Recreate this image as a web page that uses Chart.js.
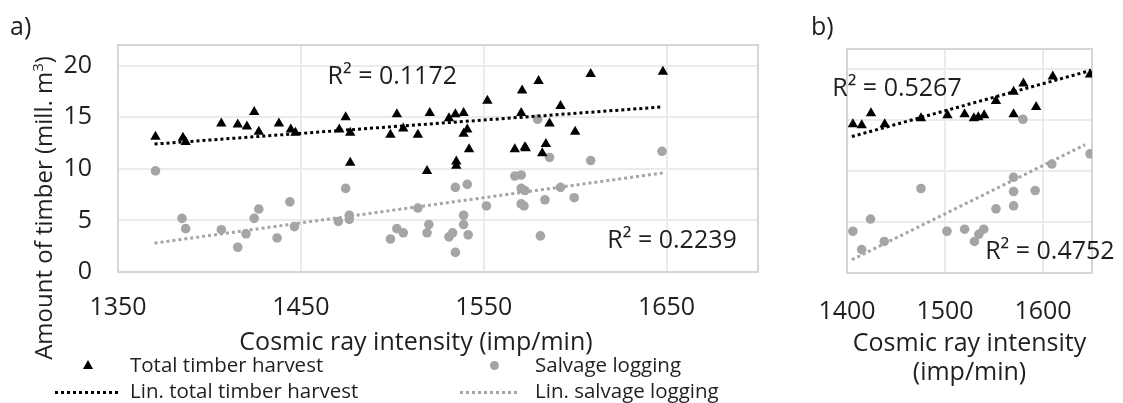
<!DOCTYPE html>
<html>
<head>
<meta charset="utf-8">
<script src="https://cdn.jsdelivr.net/npm/chart.js@4.4.1/dist/chart.umd.min.js"></script>
<style>
  body { margin: 0; background: #fff; width: 1123px; height: 403px; position: relative; overflow: hidden;
         font-family: 'Open Sans', sans-serif; color: #1f1f1f; }
  canvas { position: absolute; top: 0; }
  #chartA { left: 0; }
  #chartB { left: 780px; }
  .txt { position: absolute; white-space: nowrap; line-height: 1; }
  .panel { font-size: 25px; }
  .ytitle { left: 43px; top: 208px; font-size: 24px; transform: translate(-50%, -50%) rotate(-90deg); }
  .ytitle sup { font-size: 15px; vertical-align: 9px; line-height: 0; }
  .xtitle { left: 416px; top: 340px; font-size: 25px; transform: translate(-50%, -50%); }
  .leg { font-size: 20.5px; }
  .mk { position: absolute; }
  .tri { width: 0; height: 0; border-left: 5px solid transparent; border-right: 5px solid transparent; border-bottom: 9px solid #000; }
  .dot { width: 9px; height: 9px; border-radius: 50%; background: #a5a5a5; }
  .dash { height: 3px; }
</style>
</head>
<body>
<canvas id="chartA" width="775" height="355"></canvas>
<canvas id="chartB" width="343" height="392"></canvas>

<div class="txt panel" style="left:10px; top:13px;">a)</div>
<div class="txt panel" style="left:811px; top:13px;">b)</div>
<div class="txt ytitle">Amount of timber (mill. m<sup>3</sup>)</div>
<div class="txt xtitle">Cosmic ray intensity (imp/min)</div>

<!-- legend -->
<div class="mk tri" style="left:83px; top:360px;"></div>
<div class="txt leg" style="left:130px; top:354px;">Total timber harvest</div>
<div class="mk dot" style="left:490px; top:361px;"></div>
<div class="txt leg" style="left:535px; top:354px;">Salvage logging</div>
<div class="mk dash" style="left:55px; top:391px; width:63px; background: repeating-linear-gradient(to right, #000 0 3px, transparent 3px 6px);"></div>
<div class="txt leg" style="left:130px; top:380px;">Lin. total timber harvest</div>
<div class="mk dash" style="left:460px; top:391px; width:58px; background: repeating-linear-gradient(to right, #a5a5a5 0 3px, transparent 3px 6px);"></div>
<div class="txt leg" style="left:535px; top:380px;">Lin. salvage logging</div>

<script>
// axis ticks
const xTicksA = [1350, 1450, 1550, 1650];
const xTicksB = [1400, 1500, 1600];
const yTicks = [0, 5, 10, 15, 20];

// panel a) - all years
const totalA_x = [1370.5, 1385.5, 1387, 1406.5, 1415.5, 1420.5, 1424.5, 1427, 1438, 1444.5, 1447, 1471, 1474.5, 1477, 1477,
  1499, 1502.5, 1506, 1514, 1519, 1520.5, 1531, 1534.5, 1535, 1535, 1539, 1539, 1541, 1542, 1552, 1567, 1570.5, 1571,
  1572.5, 1573, 1580, 1582, 1584, 1586, 1592, 1600, 1608.5, 1648];
const totalA_y = [13.1, 13.0, 12.6, 14.4, 14.3, 14.1, 15.5, 13.6, 14.4, 13.8, 13.5, 13.8, 15.0, 13.5, 10.6,
  13.3, 15.3, 13.9, 13.3, 9.8, 15.4, 14.9, 15.3, 10.7, 10.3, 15.4, 13.4, 13.8, 11.9, 16.6, 11.9, 15.4, 17.6,
  12.1, 12.0, 18.5, 11.5, 12.4, 14.4, 16.1, 13.6, 19.2, 19.4];
const salvageA_x = [1370.5, 1385, 1387, 1406.5, 1415.5, 1420, 1424.5, 1427, 1437, 1444, 1446.5, 1470.5, 1474.5, 1476.5, 1476.5,
  1499, 1502.5, 1506, 1514, 1519, 1520, 1531, 1533, 1534.5, 1534.5, 1539, 1539, 1541, 1541.5, 1551.5, 1567, 1570.5, 1570.5,
  1572.5, 1570.5, 1572, 1579.5, 1581, 1583.5, 1586, 1592, 1599.5, 1608.5, 1647.5];
const salvageA_y = [9.8, 5.2, 4.2, 4.1, 2.4, 3.7, 5.2, 6.1, 3.3, 6.8, 4.4, 4.9, 8.1, 5.5, 5.1,
  3.2, 4.2, 3.8, 6.2, 3.8, 4.6, 3.4, 3.8, 1.9, 8.2, 5.5, 4.6, 8.5, 3.6, 6.4, 9.3, 9.4, 8.1,
  7.9, 6.6, 6.4, 14.8, 3.5, 7.0, 11.1, 8.2, 7.2, 10.8, 11.7];
// trend line end points
const trendTotalA_x = [1370, 1648];
const trendTotalA_y = [12.4, 16.0];
const trendSalvageA_x = [1370, 1648];
const trendSalvageA_y = [2.8, 9.6];

// panel b) - subset
const totalB_x = [1406, 1415, 1424.5, 1438.5, 1475.5, 1502.5, 1520, 1529.5, 1534, 1540, 1552, 1570, 1570, 1580, 1593, 1610, 1648];
const totalB_y = [14.6, 14.5, 15.7, 14.6, 15.2, 15.5, 15.6, 15.2, 15.3, 15.5, 16.9, 15.6, 17.8, 18.6, 16.3, 19.3, 19.5];
const salvageB_x = [1406, 1415, 1424, 1438, 1475.5, 1502, 1520, 1530, 1534.5, 1539.5, 1552, 1570, 1570, 1570, 1579.5, 1592, 1609, 1648];
const salvageB_y = [4.1, 2.3, 5.3, 3.1, 8.3, 4.1, 4.3, 3.1, 3.8, 4.3, 6.3, 9.4, 8.0, 6.6, 15.1, 8.1, 10.7, 11.7];
const trendTotalB_x = [1405, 1649];
const trendTotalB_y = [13.4, 19.9];
const trendSalvageB_x = [1405, 1643];
const trendSalvageB_y = [1.3, 12.6];

const r2LabelsA = ['R² = 0.1172', 'R² = 0.2239'];
const r2LabelsB = ['R² = 0.5267', 'R² = 0.4752'];

const textColor = '#1f1f1f';
const gridColor = '#ebebeb';
const grey = '#a5a5a5';
const fontFamily = "'Open Sans', sans-serif";

Chart.defaults.font.family = fontFamily;
Chart.defaults.color = textColor;

const toPoints = (xs, ys) => xs.map((x, i) => ({ x: x, y: ys[i] }));

// plot area frame (light grey box like the spreadsheet)
const framePlugin = {
  id: 'frame',
  beforeDatasetsDraw(chart) {
    const { ctx, chartArea: a } = chart;
    ctx.save();
    ctx.strokeStyle = '#d6d6d6';
    ctx.lineWidth = 2;
    ctx.strokeRect(a.left, a.top, a.right - a.left, a.bottom - a.top);
    ctx.restore();
  }
};

// R² texts, anchored in data units
const r2Plugin = {
  id: 'r2',
  afterDatasetsDraw(chart, args, opts) {
    const { ctx, scales } = chart;
    ctx.save();
    ctx.font = '25px ' + fontFamily;
    ctx.fillStyle = textColor;
    ctx.textAlign = 'center';
    ctx.textBaseline = 'middle';
    opts.labels.forEach(l => {
      ctx.fillText(l.text, scales.x.getPixelForValue(l.x), scales.y.getPixelForValue(l.y));
    });
    ctx.restore();
  }
};

function makeDatasets(tx, ty, sx, sy, ttx, tty, tsx, tsy) {
  return [
    {
      type: 'line', label: 'Lin. total timber harvest', data: toPoints(ttx, tty),
      borderColor: '#000', borderWidth: 3, borderDash: [3, 3], pointRadius: 0, fill: false
    },
    {
      type: 'line', label: 'Lin. salvage logging', data: toPoints(tsx, tsy),
      borderColor: grey, borderWidth: 3, borderDash: [3, 3], pointRadius: 0, fill: false
    },
    {
      label: 'Total timber harvest', data: toPoints(tx, ty),
      pointStyle: 'triangle', pointRadius: 6, backgroundColor: '#000', borderColor: '#000', borderWidth: 0
    },
    {
      label: 'Salvage logging', data: toPoints(sx, sy),
      pointStyle: 'circle', pointRadius: 4.8, backgroundColor: grey, borderColor: grey, borderWidth: 0
    }
  ];
}

const tickList = list => scale => { scale.ticks = list.map(v => ({ value: v })); };

// panel a)
new Chart(document.getElementById('chartA'), {
  type: 'scatter',
  data: { datasets: makeDatasets(totalA_x, totalA_y, salvageA_x, salvageA_y,
    trendTotalA_x, trendTotalA_y, trendSalvageA_x, trendSalvageA_y) },
  options: {
    responsive: false,
    animation: false,
    layout: { padding: { top: 45, right: 17, left: 0, bottom: 0 } },
    plugins: {
      legend: { display: false },
      tooltip: { enabled: false },
      r2: { labels: [
        { text: r2LabelsA[0], x: 1500, y: 18.9 },
        { text: r2LabelsA[1], x: 1653, y: 3.0 }
      ] }
    },
    scales: {
      x: {
        type: 'linear', min: 1350, max: 1700,
        afterBuildTicks: tickList(xTicksA),
        afterFit: s => { s.height = 83; },
        grid: { color: gridColor, lineWidth: 2, drawTicks: false },
        border: { display: false },
        ticks: { padding: 21, font: { size: 25 }, color: textColor, callback: v => String(v) }
      },
      y: {
        min: 0, max: 22,
        afterBuildTicks: tickList(yTicks),
        afterFit: s => { s.width = 118; },
        grid: { color: gridColor, lineWidth: 2, drawTicks: false },
        border: { display: false },
        ticks: { padding: 26, font: { size: 25 }, color: textColor, callback: v => String(v) }
      }
    }
  },
  plugins: [framePlugin, r2Plugin]
});

// panel b)
new Chart(document.getElementById('chartB'), {
  type: 'scatter',
  data: { datasets: makeDatasets(totalB_x, totalB_y, salvageB_x, salvageB_y,
    trendTotalB_x, trendTotalB_y, trendSalvageB_x, trendSalvageB_y) },
  options: {
    responsive: false,
    animation: false,
    layout: { padding: { top: 49, right: 31, left: 0, bottom: 0 } },
    plugins: {
      legend: { display: false },
      tooltip: { enabled: false },
      r2: { labels: [
        { text: r2LabelsB[0], x: 1451, y: 18.1 },
        { text: r2LabelsB[1], x: 1607, y: 2.1 }
      ] }
    },
    scales: {
      x: {
        type: 'linear', min: 1400, max: 1650,
        afterBuildTicks: tickList(xTicksB),
        afterFit: s => { s.height = 119; },
        grid: { color: gridColor, lineWidth: 2, drawTicks: false },
        border: { display: false },
        ticks: { padding: 24, font: { size: 25 }, color: textColor, callback: v => String(v) },
        title: { display: true, text: ['Cosmic ray intensity', '(imp/min)'], font: { size: 25, lineHeight: 1.16 },
                 color: textColor, padding: { top: 0, bottom: 5 } }
      },
      y: {
        min: 0, max: 22,
        afterBuildTicks: tickList(yTicks),
        afterFit: s => { s.width = 67; },
        grid: { color: gridColor, lineWidth: 2, drawTicks: false },
        border: { display: false },
        ticks: { display: false }
      }
    }
  },
  plugins: [framePlugin, r2Plugin]
});
</script>
</body>
</html>
